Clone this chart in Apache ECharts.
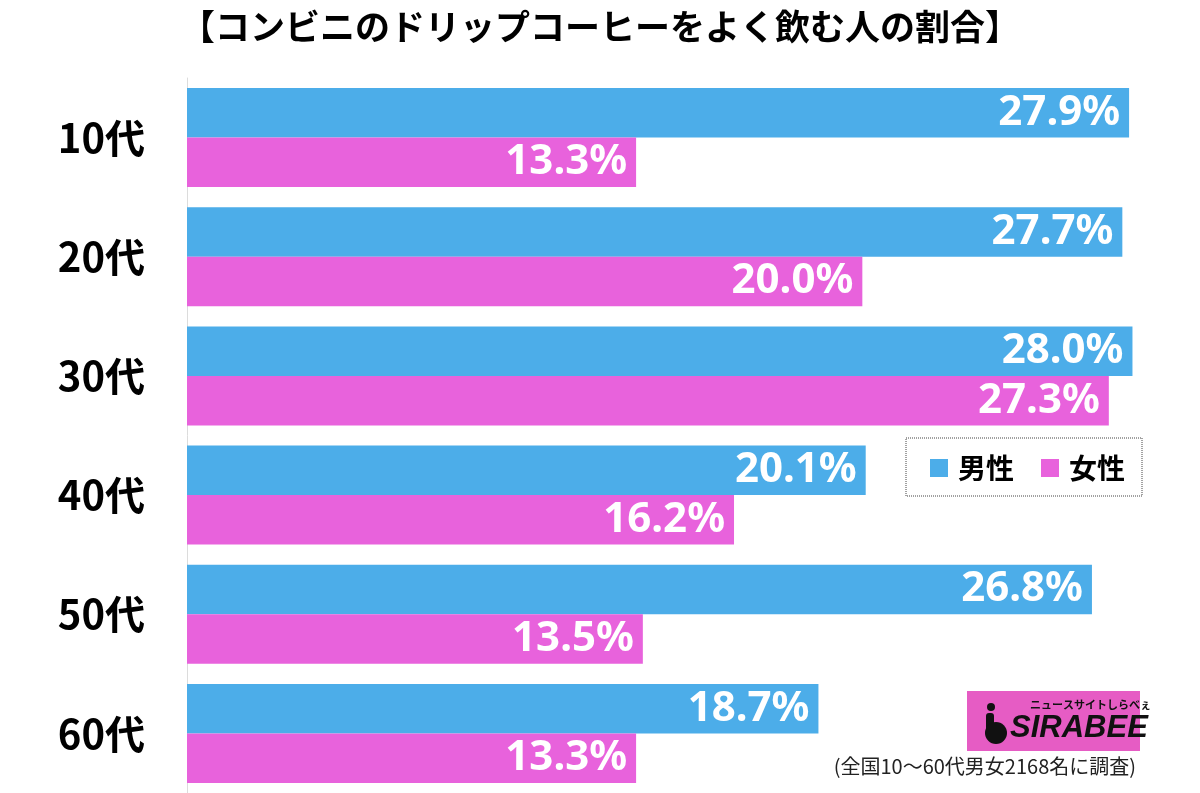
<!DOCTYPE html>
<html><head><meta charset="utf-8">
<script src="https://cdn.jsdelivr.net/npm/echarts@6/dist/echarts.min.js"></script>
<style>html,body{margin:0;padding:0;background:#fff}#c{width:1200px;height:793px}</style>
</head><body><div id="c"></div>
<script>
const categories = ['10代','20代','30代','40代','50代','60代'];
const maleValues = [27.9, 27.7, 28.0, 20.1, 26.8, 18.7];
const femaleValues = [13.3, 20.0, 27.3, 16.2, 13.5, 13.3];
const seriesNames = ['男性','女性'];
const titleText = '【コンビニのドリップコーヒーをよく飲む人の割合】';
const noteText = '(全国10～60代男女2168名に調査)';

const FONT = '"Noto Sans CJK JP","Noto Sans",sans-serif';
const chart = echarts.init(document.getElementById('c'), null, {renderer:'canvas'});
const labelCfg = {
  show: true, position: 'insideRight', distance: 9,
  color: '#fff', fontSize: 42, fontWeight: 'bold', fontFamily: '"Noto Sans","Liberation Sans",sans-serif',
  formatter: p => p.value.toFixed(1) + '%'
};
chart.setOption({
  backgroundColor: '#fff',
  animation: false,
  title: {
    text: titleText, left: 'center', top: 4,
    textStyle: {fontSize: 35, fontWeight: 'bold', color: '#000', fontFamily: FONT}
  },
  legend: {
    data: seriesNames, left: 906, top: 438,
    padding: [16, 17, 14, 24], itemGap: 27,
    itemWidth: 18, itemHeight: 18, icon: 'rect',
    borderColor: '#444', borderWidth: 1, borderType: 'dotted',
    textStyle: {fontSize: 28, fontWeight: 'bold', color: '#000', fontFamily: FONT, padding: [0,0,0,5]}
  },
  grid: {left: 187, top: 78, width: 1022, height: 717, containLabel: false},
  xAxis: {type: 'value', min: 0, max: 30, show: false},
  yAxis: {
    type: 'category', data: categories, inverse: true,
    axisLine: {show: true, lineStyle: {color: '#dcdcdc', width: 1}},
    axisTick: {show: false},
    axisLabel: {fontSize: 40, fontWeight: 'bold', color: '#000', margin: 42, fontFamily: FONT}
  },
  series: [
    {name: seriesNames[0], type: 'bar', data: maleValues, barWidth: 49.5, barGap: '0%',
     itemStyle: {color: '#4CADE9'}, label: labelCfg},
    {name: seriesNames[1], type: 'bar', data: femaleValues, barWidth: 49.5, barGap: '0%',
     itemStyle: {color: '#E862DC'}, label: labelCfg}
  ],
  graphic: [
    {type: 'rect', left: 967, top: 691, shape: {width: 173, height: 60}, style: {fill: '#E65CC4'}},
    {type: 'circle', shape: {cx: 991, cy: 707, r: 4}, style: {fill: '#111'}},
    {type: 'rect', shape: {x: 986, y: 713, width: 8, height: 20, r: 3}, style: {fill: '#111'}},
    {type: 'circle', shape: {cx: 996, cy: 733, r: 11}, style: {fill: '#111'}},
    {type: 'text', left: 1030, top: 699, style: {text: 'ニュースサイトしらべぇ', fontSize: 11, fontWeight: 'bold', fill: '#111', fontFamily: FONT}},
    {type: 'text', left: 1010, top: 713, style: {text: 'SIRABEE', fontSize: 31, fontWeight: 'bold', fontStyle: 'italic', fill: '#111', fontFamily: '"Liberation Sans",sans-serif'}},
    {type: 'text', right: 64, top: 756, style: {text: noteText, fontSize: 20, fill: '#222', fontFamily: FONT}}
  ]
});
</script></body></html>
